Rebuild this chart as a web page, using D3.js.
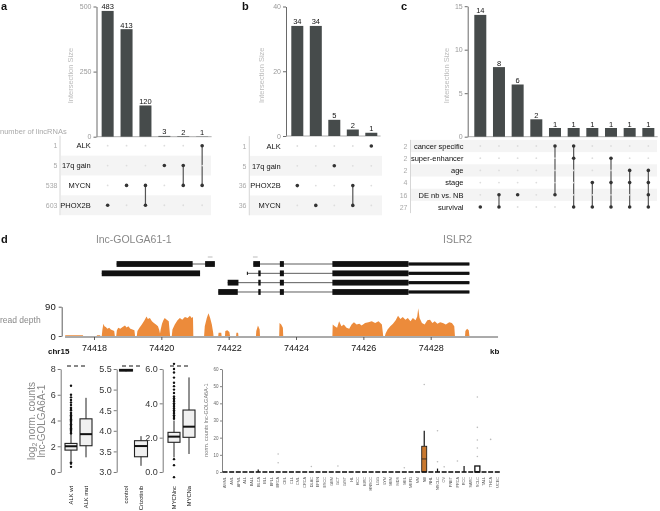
<!DOCTYPE html>
<html><head><meta charset="utf-8">
<script src="https://cdn.jsdelivr.net/npm/d3@7"></script>
<style>body{margin:0;background:#fff}svg{display:block;will-change:transform}text{font-family:"Liberation Sans",Arial,sans-serif}</style>
</head><body><svg id="c" width="660" height="511"></svg>
<script>
// ---------- data ----------
const aCounts=[483,413,120,3,2,1];
const aSets=["ALK","17q gain","MYCN","PHOX2B"];
const aSetSizes=[1,5,538,603];
const aCombos=[["PHOX2B"],["MYCN"],["MYCN","PHOX2B"],["17q gain"],["17q gain","MYCN"],["ALK","MYCN"]];
const aTicks=[0,250,500];

const bCounts=[34,34,5,2,1];
const bSets=["ALK","17q gain","PHOX2B","MYCN"];
const bSetSizes=[1,5,36,36];
const bCombos=[["PHOX2B"],["MYCN"],["17q gain"],["PHOX2B","MYCN"],["ALK"]];
const bTicks=[0,20,40];

const cCounts=[14,8,6,2,1,1,1,1,1,1];
const cSets=["cancer specific","super-enhancer","age","stage","DE nb vs. NB","survival"];
const cSetSizes=[2,2,2,4,16,27];
const cCombos=[["survival"],["DE nb vs. NB","survival"],["DE nb vs. NB"],[],["cancer specific","DE nb vs. NB"],["cancer specific","super-enhancer","survival"],["stage","survival"],["super-enhancer","stage","survival"],["age","stage","survival"],["age","stage","DE nb vs. NB","survival"]];
const cTicks=[0,5,10,15];

const kbTicks=[74418,74420,74422,74424,74426,74428];
const coverage=[
[74417.14,0],[74417.15,2],[74417.67,2],[74417.68,0],
[74418.08,0],[74418.09,2],[74418.18,2],[74418.19,0],
[74418.23,0],[74418.25,20],[74418.28,38],[74418.31,30],[74418.35,28],[74418.40,22],[74418.45,25],[74418.50,20],[74418.55,18],[74418.60,15],[74418.62,0],
[74418.66,0],[74418.68,18],[74418.72,25],[74418.78,22],[74418.85,28],[74418.92,32],[74418.97,26],[74419.02,30],[74419.08,22],[74419.14,20],[74419.20,18],[74419.22,0],
[74419.27,0],[74419.29,15],[74419.35,25],[74419.42,35],[74419.50,48],[74419.56,60],[74419.60,52],[74419.66,55],[74419.72,45],[74419.78,40],[74419.84,35],[74419.90,30],[74419.94,18],[74419.96,8],[74419.98,20],[74420.02,38],[74420.06,48],[74420.10,55],[74420.16,50],[74420.22,45],[74420.26,0],
[74420.31,0],[74420.33,20],[74420.40,35],[74420.48,48],[74420.55,55],[74420.62,50],[74420.70,58],[74420.78,55],[74420.85,62],[74420.90,55],[74420.94,58],[74420.95,0],
[74421.27,0],[74421.29,30],[74421.35,55],[74421.40,70],[74421.45,55],[74421.50,35],[74421.54,10],[74421.55,0],
[74421.69,0],[74421.70,10],[74421.78,10],[74421.79,0],
[74421.89,0],[74421.90,15],[74421.96,18],[74422.02,12],[74422.04,0],
[74422.22,0],[74422.23,10],[74422.28,10],[74422.29,0],
[74422.81,0],[74422.82,15],[74422.87,32],[74422.92,20],[74422.93,0],
[74423.50,0],[74423.51,40],[74423.56,35],[74423.61,25],[74423.62,0],
[74425.08,0],[74425.09,35],[74425.15,30],[74425.22,25],[74425.28,45],[74425.35,30],[74425.42,35],[74425.50,25],[74425.58,22],[74425.65,35],[74425.72,42],[74425.80,35],[74425.88,38],[74425.95,32],[74426.05,40],[74426.15,42],[74426.25,45],[74426.35,40],[74426.45,45],[74426.55,35],[74426.59,0],
[74426.64,0],[74426.66,8],[74426.72,20],[74426.80,30],[74426.88,38],[74426.96,48],[74427.03,62],[74427.10,52],[74427.17,58],[74427.25,50],[74427.32,55],[74427.40,45],[74427.47,55],[74427.55,48],[74427.60,60],[74427.63,85],[74427.67,55],[74427.74,40],[74427.82,35],[74427.90,48],[74427.98,50],[74428.05,40],[74428.12,45],[74428.20,38],[74428.28,42],[74428.36,40],[74428.45,35],[74428.55,42],[74428.63,40],[74428.70,30],[74428.72,0],
[74429.02,0],[74429.03,15],[74429.08,22],[74429.13,18],[74429.15,0]
];
const transcripts=[
 {row:0,start:74418.67,end:74421.59,exons:[[74418.67,74420.93],[74421.30,74421.59]],utr:[]},
 {row:1,start:74418.23,end:74421.15,exons:[[74418.23,74421.15]],utr:[]},
 {row:0,start:74422.73,end:74429.15,exons:[[74422.73,74422.93],[74423.52,74423.64],[74425.08,74427.34]],utr:[[74427.34,74429.15]]},
 {row:1,start:74422.55,end:74429.15,exons:[[74422.88,74422.95],[74423.52,74423.64],[74425.08,74427.34]],utr:[[74422.54,74422.57],[74427.34,74429.15]]},
 {row:2,start:74421.97,end:74429.15,exons:[[74421.97,74422.29],[74422.88,74422.95],[74423.52,74423.64],[74425.08,74427.34]],utr:[[74427.34,74429.15]]},
 {row:3,start:74421.69,end:74429.15,exons:[[74421.69,74422.27],[74422.88,74422.95],[74423.52,74423.64],[74425.08,74427.34]],utr:[[74427.34,74429.15]]}
];

const alkGroups=["ALK wt","ALK mut"];
const alkStats=[{q1:1.7,med:2.0,q3:2.22,lo:0.85,hi:2.95},{q1:2.04,med:2.94,q3:4.13,lo:1.14,hi:5.76}];
const alkOut=[[3.0,3.1,3.2,3.3,3.4,3.5,3.6,3.7,3.8,3.9,4.0,4.1,4.2,4.3,4.4,4.5,4.6,4.8,4.9,5.0,5.2,5.4,5.6,5.8,6.0,6.7,0.75,0.65,0.4],[]];
const crizGroups=["control","Crizotinib"];
const crizStats=[{q1:5.45,med:5.47,q3:5.49,lo:5.44,hi:5.5},{q1:3.37,med:3.63,q3:3.76,lo:3.15,hi:3.87}];
const crizOut=[[],[]];
const mycnGroups=["MYCNnc","MYCNa"];
const mycnStats=[{q1:1.73,med:2.06,q3:2.31,lo:0.85,hi:3.0},{q1:2.02,med:2.64,q3:3.61,lo:1.05,hi:5.51}];
const mycnOut=[[3.1,3.2,3.3,3.4,3.5,3.6,3.7,3.8,3.9,4.0,4.1,4.2,4.3,4.4,4.6,4.8,5.0,5.2,5.5,5.8,6.0,6.3,0.75,0.4,-0.3],[]];

const ctypes=["AMML","AML","APML","ALL","BALL","BLCA","BLL","BPLL","BRCA","CEL","CLL","CML","CRCA","DLAC","EPEN","ESCC","GBM","GCT","GIST","HL","HCC","KIRC","HNSCC","LGG","LYM","MBM","MDS","MEL","MEPD","MM","NB","NHL","NSCLC","OV","PNET","PRCA","RCC","SARC","SCLC","TALL","THCA","UCEC"];
const ctQ1 =[0,0,0,0,0,0,0,0,0,0,0,0,0,0,0,0,0,0,0,0,0,0,0,0,0,0,0,0,0,0,0,0,0,0,0,0,0,0,0,0,0,0];
const ctMed=[0,0,0,0,0,0,0,0,0,0,0,0,0,0,0,0,0,0,0,0,0,0,0,0,0,0,0,0,0,0,7.6,0,0,0,0,0,0,0,0.3,0,0,0];
const ctQ3 =[0,0,0,0,0,0,0,0,0,0,0,0,0,0,0,0,0,0,0,0,0,0,0,0,0,0,0,0,0,0,15,0,0,0,0,0,0,0,3.5,0,0,0];
const ctHi =[0,0,0,0,0,1.5,0,0,0,0,0,0,0,0,0,0,0,0,0,0,0,0,0,0,0,0,0,0,0,0,24,0,2,0,0,0,3.5,0,3.5,0,0,0];
const ctOut=[[],[],[],[],[],[],[],[],[10.5,5.4],[],[],[],[],[3.2],[],[],[],[3.5],[],[],[],[],[],[],[],[],[],[2.5],[],[],[51],[],[24,6],[3],[],[6.4],[],[],[9,14,18.6,26,43.7],[],[19],[]];

// ---------- drawing ----------
const svg=d3.select("#c");
svg.append("rect").attr("width",660).attr("height",511).attr("fill","#fff");

function label(t,x,y){svg.append("text").attr("x",x).attr("y",y).attr("font-weight","bold").style("font-size","11px").attr("fill","#111").text(t);}
label("a",1,10);label("b",242,10);label("c",401,10);label("d",1,243);

function styleAxis(ax,col,fs,tcol){
  ax.select(".domain").attr("stroke",col).attr("stroke-width",0.8);
  ax.selectAll(".tick line").attr("stroke",col).attr("stroke-width",0.8);
  ax.selectAll(".tick text").attr("fill",tcol).style("font-size",fs).style("font-family",'"Liberation Sans",Arial,sans-serif');
}

function upset(o){
  const g=svg.append("g");
  const n=o.counts.length;
  const x=d3.scalePoint().domain(d3.range(n)).range(o.xr).padding(0.5);
  const y=d3.scaleLinear().domain([0,o.max]).range([o.base,o.top]);
  const ry=d3.scalePoint().domain(o.sets).range([o.rowY0,o.rowY0+o.rowStep*(o.sets.length-1)]);
  g.append("g").selectAll("rect").data(o.sets.filter((s,i)=>o.bands.includes(i))).join("rect")
    .attr("x",o.bandX0).attr("width",o.bandX1-o.bandX0).attr("y",d=>ry(d)-o.rowStep/2).attr("height",o.rowStep).attr("fill","#f4f4f4");
  const ax=g.append("g").attr("transform",`translate(${o.axisX},0)`)
    .call(d3.axisLeft(y).tickValues(o.ticks).tickSize(3).tickSizeOuter(0).tickPadding(2));
  styleAxis(ax,"#444","7px","#999");
  g.append("line").attr("x1",o.axisX).attr("x2",o.xr[1]).attr("y1",o.base).attr("y2",o.base).attr("stroke","#999").attr("stroke-width",0.8);
  g.append("text").attr("transform",`translate(${o.titleX},${(o.base+o.top)/2+4}) rotate(-90)`).attr("text-anchor","middle").attr("fill","#bbb").style("font-size","7.5px").text("Intersection Size");
  g.append("g").selectAll("rect").data(o.counts).join("rect").attr("x",(d,i)=>x(i)-6).attr("width",12).attr("y",d=>y(d)).attr("height",d=>o.base-y(d)).attr("fill","#464b4b");
  g.append("g").selectAll("text").data(o.counts).join("text").attr("x",(d,i)=>x(i)).attr("y",d=>y(d)-1.5).attr("text-anchor","middle").style("font-size","7.5px").attr("fill","#111").text(d=>d);
  g.append("line").attr("x1",o.vX).attr("x2",o.vX).attr("y1",o.rowY0-o.rowStep/2).attr("y2",ry(o.sets[o.sets.length-1])+o.rowStep/2).attr("stroke","#ccc").attr("stroke-width",0.8);
  g.append("g").selectAll("text").data(o.sets).join("text").attr("x",o.nameX).attr("y",d=>ry(d)+2.7).attr("text-anchor","end").style("font-size","7.5px").attr("fill","#111").text(d=>d);
  g.append("g").selectAll("text").data(o.sizes).join("text").attr("x",o.sizeX).attr("y",(d,i)=>ry(o.sets[i])+2.7).attr("text-anchor","end").style("font-size","7px").attr("fill","#aaa").text(d=>d);
  const cols=g.append("g").selectAll("g").data(o.combos).join("g");
  cols.each(function(c,i){
    const cg=d3.select(this);
    if(c.length>1){
      const ys=c.map(s=>ry(s));
      cg.append("line").attr("x1",x(i)).attr("x2",x(i)).attr("y1",d3.min(ys)).attr("y2",d3.max(ys)).attr("stroke","#555").attr("stroke-width",1.2);
    }
    cg.selectAll("circle").data(o.sets).join("circle").attr("cx",x(i)).attr("cy",s=>ry(s))
      .attr("r",s=>c.includes(s)?1.8:0.9).attr("fill",s=>c.includes(s)?"#333":"#ddd");
  });
}

upset({counts:aCounts,sets:aSets,sizes:aSetSizes,combos:aCombos,ticks:aTicks,max:500,
  xr:[98.2,211.6],axisX:96.5,base:136.7,top:6.5,rowY0:145.7,rowStep:19.85,bands:[1,3],
  bandX0:61,bandX1:211,vX:60,nameX:90.7,sizeX:57.5,titleX:73});
upset({counts:bCounts,sets:bSets,sizes:bSetSizes,combos:bCombos,ticks:bTicks,max:40,
  xr:[288.05,380.55],axisX:286,base:136,top:6.5,rowY0:146,rowStep:19.8,bands:[1,3],
  bandX0:250,bandX1:382,vX:249.3,nameX:280.7,sizeX:246.5,titleX:264});
upset({counts:cCounts,sets:cSets,sizes:cSetSizes,combos:cCombos,ticks:cTicks,max:15,
  xr:[470.97,657.67],axisX:467.7,base:136.7,top:6.2,rowY0:146,rowStep:12.2,bands:[0,2,4],
  bandX0:411,bandX1:657,vX:410.5,nameX:463.5,sizeX:407.5,titleX:448.5});
svg.append("text").attr("x",0).attr("y",134).style("font-size","7.5px").attr("fill","#aaa").text("number of lincRNAs");

// ---------- genome track ----------
const xg=d3.scaleLinear().domain([74418,74428]).range([94,430.7]);
svg.append("text").attr("x",134).attr("y",243).attr("text-anchor","middle").style("font-size","10.5px").attr("fill","#888").text("lnc-GOLGA61-1");
svg.append("text").attr("x",443).attr("y",243).style("font-size","10.5px").attr("fill","#888").text("ISLR2");
const rowY=r=>264+r*9.33;
const tg=svg.append("g");
transcripts.forEach(t=>{
  const y=rowY(t.row);
  tg.append("line").attr("x1",xg(t.start)).attr("x2",xg(t.end)).attr("y1",y).attr("y2",y).attr("stroke","#333").attr("stroke-width",0.8);
  tg.selectAll(null).data(t.exons).join("rect").attr("x",d=>xg(d[0])).attr("width",d=>Math.max(1.5,xg(d[1])-xg(d[0]))).attr("y",y-2.9).attr("height",5.8).attr("fill","#111");
  tg.selectAll(null).data(t.utr).join("rect").attr("x",d=>xg(d[0])).attr("width",d=>Math.max(1,xg(d[1])-xg(d[0]))).attr("y",y-1.6).attr("height",3.2).attr("fill","#111");
});
tg.append("line").attr("x1",xg(74421.38)).attr("x2",xg(74421.52)).attr("y1",257).attr("y2",257).attr("stroke","#bbb").attr("stroke-width",1);
tg.append("line").attr("x1",xg(74422.72)).attr("x2",xg(74422.86)).attr("y1",257).attr("y2",257).attr("stroke","#bbb").attr("stroke-width",1);

const yd=d3.scaleLinear().domain([0,90]).range([336,306.7]);
svg.append("path").datum(coverage).attr("fill","#ec8b3b")
  .attr("d",d3.area().x(d=>xg(d[0])).y0(yd(0)).y1(d=>yd(d[1])));
const ayd=svg.append("g").attr("transform","translate(61.7,0)").call(d3.axisLeft(yd).tickValues([0,90]).tickSize(3).tickSizeOuter(0).tickPadding(3));
styleAxis(ayd,"#333","9.5px","#111");
svg.append("text").attr("x",0).attr("y",323).style("font-size","8.5px").attr("fill","#888").text("read depth");

const gx=svg.append("g").attr("transform","translate(0,337)").call(d3.axisBottom(xg).tickValues(kbTicks).tickFormat(d3.format("d")).tickSize(3).tickPadding(5).tickSizeOuter(0));
gx.select(".domain").remove();
styleAxis(gx,"#333","9px","#111");
svg.append("line").attr("x1",xg(74417.14)).attr("x2",xg(74430)).attr("y1",337).attr("y2",337).attr("stroke","#444").attr("stroke-width",0.9);
svg.append("text").attr("x",48).attr("y",353.5).attr("font-weight","bold").style("font-size","8px").attr("fill","#111").text("chr15");
svg.append("text").attr("x",490).attr("y",353.5).attr("font-weight","bold").style("font-size","8px").attr("fill","#111").text("kb");

// ---------- boxplots ----------
function boxPanel(o){
  const g=svg.append("g");
  const y=d3.scaleLinear().domain(o.dom).range([472,369]);
  const x=d3.scalePoint().domain(o.groups).range(o.xr).padding(0.5);
  const ax=g.append("g").attr("transform",`translate(${o.axisX},0)`).call(d3.axisLeft(y).tickValues(o.ticks).tickSize(3).tickSizeOuter(0).tickPadding(2));
  styleAxis(ax,"#555","9px","#333");
  o.groups.forEach((gr,i)=>{
    const s=o.stats[i],cx=x(gr),w=o.bw;
    g.append("line").attr("x1",cx).attr("x2",cx).attr("y1",y(s.lo)).attr("y2",y(s.hi)).attr("stroke","#222").attr("stroke-width",1);
    g.append("rect").attr("x",cx-w/2).attr("width",w).attr("y",y(s.q3)).attr("height",Math.max(0.5,y(s.q1)-y(s.q3))).attr("fill","#f0f0f0").attr("stroke","#222").attr("stroke-width",1.1);
    g.append("line").attr("x1",cx-w/2).attr("x2",cx+w/2).attr("y1",y(s.med)).attr("y2",y(s.med)).attr("stroke","#111").attr("stroke-width",2);
    g.selectAll(null).data(o.out[i]).join("circle").attr("cx",cx).attr("cy",d=>y(d)).attr("r",1.2).attr("fill","#111");
    g.append("text").attr("transform",`translate(${cx},486) rotate(-90)`).attr("dy","0.35em").attr("text-anchor","end").style("font-size","5.8px").attr("fill","#111").text(gr);
  });
  g.append("line").attr("x1",x(o.groups[0])-4).attr("x2",x(o.groups[1])+2).attr("y1",366).attr("y2",366).attr("stroke","#111").attr("stroke-width",1).attr("stroke-dasharray","4,3");
}
boxPanel({groups:alkGroups,stats:alkStats,out:alkOut,dom:[0,8],ticks:[0,2,4,6,8],xr:[63.5,93.5],axisX:60.7,bw:12});
boxPanel({groups:crizGroups,stats:crizStats,out:crizOut,dom:[3,5.5],ticks:[3,3.5,4,4.5,5,5.5],xr:[118.5,148.5],axisX:116.7,bw:13});
boxPanel({groups:mycnGroups,stats:mycnStats,out:mycnOut,dom:[0,6],ticks:[0,2,4,6],xr:[166.5,196.5],axisX:162.7,bw:12});
const yt=svg.append("text").attr("transform","translate(0,421) rotate(-90)").attr("text-anchor","middle").style("font-size","10px").attr("fill","#888");
yt.append("tspan").attr("x",0).attr("y",35).text("log");
yt.append("tspan").attr("dy",2).style("font-size","7px").text("2");
yt.append("tspan").attr("dy",-2).text(" norm. counts");
svg.append("text").attr("transform","translate(45,421) rotate(-90)").attr("text-anchor","middle").style("font-size","10px").attr("fill","#888").text("lnc-GOLGA6A-1");

// ---------- cancer types ----------
const yc=d3.scaleLinear().domain([0,60]).range([472,369]);
const xc=d3.scalePoint().domain(ctypes).range([221.7,500.6]).padding(0.5);
const ayc=svg.append("g").attr("transform","translate(222,0)").call(d3.axisLeft(yc).tickValues([0,10,20,30,40,50,60]).tickSize(2).tickSizeOuter(0).tickPadding(1.5));
styleAxis(ayc,"#666","4.5px","#666");
svg.append("text").attr("transform","translate(208,420) rotate(-90)").attr("text-anchor","middle").style("font-size","5.5px").attr("fill","#777").text("norm. counts lnc-GOLGA6A-1");
const cg=svg.append("g");
ctypes.forEach((c,i)=>{
  const cx=xc(c),w=5;
  cg.selectAll(null).data(ctOut[i]).join("circle").attr("cx",cx).attr("cy",d=>yc(d)).attr("r",0.8).attr("fill","#bbb");
  if(ctHi[i]>ctQ3[i]) cg.append("line").attr("x1",cx).attr("x2",cx).attr("y1",yc(ctQ3[i])).attr("y2",yc(ctHi[i])).attr("stroke","#111").attr("stroke-width",1.2);
  if(ctQ3[i]>ctQ1[i]){
    cg.append("rect").attr("x",cx-w/2).attr("width",w).attr("y",yc(ctQ3[i])).attr("height",yc(ctQ1[i])-yc(ctQ3[i]))
      .attr("fill",c==="NB"?"#c8782f":"#fff").attr("stroke","#111").attr("stroke-width",c==="NB"?0.8:1.3);
    cg.append("line").attr("x1",cx-w/2).attr("x2",cx+w/2).attr("y1",yc(ctMed[i])).attr("y2",yc(ctMed[i])).attr("stroke","#222").attr("stroke-width",0.8);
  }
  cg.append("line").attr("x1",cx-w/2).attr("x2",cx+w/2).attr("y1",yc(0)).attr("y2",yc(0)).attr("stroke","#111").attr("stroke-width",1.6);
  cg.append("text").attr("transform",`translate(${cx},477) rotate(-90)`).attr("dy","0.35em").attr("text-anchor","end").style("font-size","3.8px").attr("fill","#555").text(c);
});
</script></body></html>
